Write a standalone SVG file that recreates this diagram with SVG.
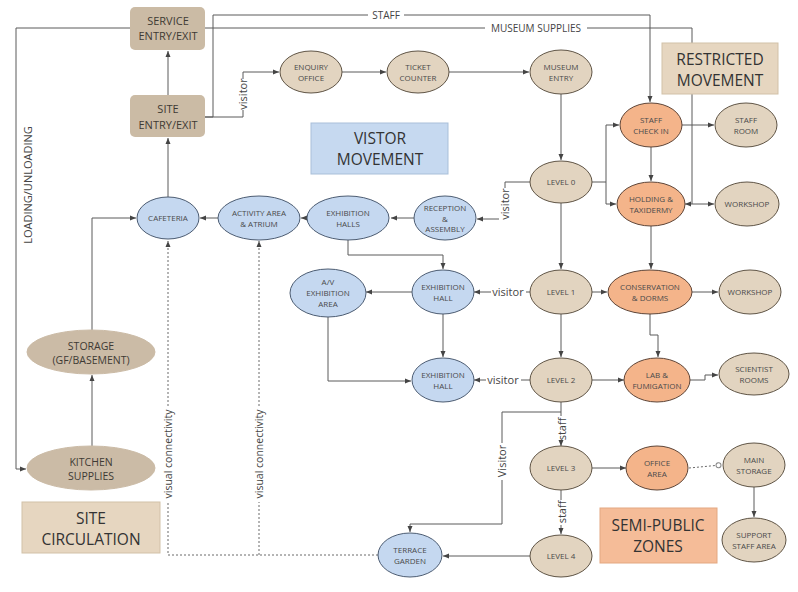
<svg xmlns="http://www.w3.org/2000/svg" width="798" height="592" viewBox="0 0 798 592">
<style>
text{font-family:"Open Sans","Liberation Sans",sans-serif;text-anchor:middle}
.n{font-size:8px;fill:#4a4a4a}
.b{font-size:11px;fill:#3e3a34}
.lg{font-size:15.5px;fill:#333}
.lb{font-size:11px;fill:#444}
.c path{fill:none;stroke:#5a5a5a;stroke-width:1}
.c path.d{stroke-dasharray:2 2;stroke:#6a6a6a}
.tan ellipse{fill:#e2d4c0;stroke:#5f5445;stroke-width:1}
.dk ellipse{fill:#cbbba6;stroke:#cbbba6}
.bl ellipse{fill:#c5d8f0;stroke:#4c5c72;stroke-width:1}
.or ellipse{fill:#f4b48a;stroke:#5e4436;stroke-width:1}
.box{fill:#cbbba5}
</style>
<defs>
<marker id="a" markerUnits="userSpaceOnUse" markerWidth="6" markerHeight="6" refX="6" refY="3" orient="auto"><path d="M0,0.5 L6,3 L0,5.5 z" fill="#444"/></marker>
<marker id="o" markerUnits="userSpaceOnUse" markerWidth="8" markerHeight="8" refX="6.5" refY="4" orient="auto"><circle cx="4" cy="4" r="2.5" fill="#fff" stroke="#888" stroke-width="1"/></marker>
</defs>
<rect width="798" height="592" fill="#fff"/>

<g id="connectors" class="c">
<path d="M168,95 V51" marker-end="url(#a)"/>
<path d="M168,197 V138" marker-end="url(#a)"/>
<path d="M130,28 H16 V469 H26" marker-end="url(#a)"/>
<path d="M205,117 H213 V15 H368"/>
<path d="M404,15 H650 V102" marker-end="url(#a)"/>
<path d="M205,28 H485"/>
<path d="M587,28 H692 V204 H685" marker-end="url(#a)"/>
<path d="M205,117 H243 V110"/>
<path d="M243,79 V72 H279" marker-end="url(#a)"/>
<path d="M342,72 H386" marker-end="url(#a)"/>
<path d="M449,72 H529" marker-end="url(#a)"/>
<path d="M561,94 V160" marker-end="url(#a)"/>
<path d="M592,182 H606 V125 H619" marker-end="url(#a)"/>
<path d="M606,182 V204 H616" marker-end="url(#a)"/>
<path d="M682,125 H714" marker-end="url(#a)"/>
<path d="M651,147 V181" marker-end="url(#a)"/>
<path d="M692,204 H714" marker-end="url(#a)"/>
<path d="M651,226 V269" marker-end="url(#a)"/>
<path d="M561,203 V269" marker-end="url(#a)"/>
<path d="M561,314 V357" marker-end="url(#a)"/>
<path d="M561,402 V416"/>
<path d="M561,442 V446" marker-end="url(#a)"/>
<path d="M561,490 V500"/>
<path d="M561,525 V534" marker-end="url(#a)"/>
<path d="M592,292 H607" marker-end="url(#a)"/>
<path d="M692,292 H718" marker-end="url(#a)"/>
<path d="M650,314 V335 H658 V357" marker-end="url(#a)"/>
<path d="M592,380 H624" marker-end="url(#a)"/>
<path d="M690,380 H705 V375 H718" marker-end="url(#a)"/>
<path d="M592,468 H626" marker-end="url(#a)"/>
<path class="d" d="M689,468 L721,465" marker-end="url(#o)"/>
<path d="M754,487 V517" marker-end="url(#a)"/>
<path d="M530,556 H443" marker-end="url(#a)"/>
<path d="M561,412 H502 V443"/>
<path d="M502,480 V524 H410 V532" marker-end="url(#a)"/>
<path d="M530,182 H505 V188"/>
<path d="M499,219 H477" marker-end="url(#a)"/>
<path d="M415,218 H391" marker-end="url(#a)"/>
<path d="M307,218 H301" marker-end="url(#a)"/>
<path d="M218,218 H200" marker-end="url(#a)"/>
<path d="M92,330 V218 H136" marker-end="url(#a)"/>
<path d="M92,446 V375" marker-end="url(#a)"/>
<path d="M348,240 V255 H443 V269" marker-end="url(#a)"/>
<path d="M530,292 H526"/>
<path d="M491,292 H474" marker-end="url(#a)"/>
<path d="M412,292 H366" marker-end="url(#a)"/>
<path d="M443,314 V357" marker-end="url(#a)"/>
<path d="M328,317 V381 H411" marker-end="url(#a)"/>
<path d="M530,380 H521"/>
<path d="M486,380 H474" marker-end="url(#a)"/>
<path class="d" d="M378,555 H168 V502"/>
<path class="d" d="M168,406 V241" marker-end="url(#a)"/>
<path class="d" d="M259,555 V502"/>
<path class="d" d="M259,406 V241" marker-end="url(#a)"/>
<text class="lb" x="386" y="19" style="font-size:10px">STAFF</text>
<text class="lb" x="536" y="32" style="font-size:10px">MUSEUM SUPPLIES</text>
<text class="lb" transform="translate(32,185) rotate(-90)">LOADING/UNLOADING</text>
<text class="lb" transform="translate(247,94) rotate(-90)">visitor</text>
<text class="lb" transform="translate(509,204) rotate(-90)">visitor</text>
<text class="lb" x="508" y="296">visitor</text>
<text class="lb" x="503" y="384">visitor</text>
<text class="lb" transform="translate(566,429) rotate(-90)">staff</text>
<text class="lb" transform="translate(566,512) rotate(-90)">staff</text>
<text class="lb" transform="translate(506,461) rotate(-90)">Visitor</text>
<text class="lb" style="font-size:10.5px" transform="translate(172,454) rotate(-90)">visual connectivity</text>
<text class="lb" style="font-size:10.5px" transform="translate(263,454) rotate(-90)">visual connectivity</text>
</g>

<g id="service-entry"><rect class="box" x="130" y="7" width="75" height="43" rx="5"/><text class="b" x="168" y="25">SERVICE</text><text class="b" x="168" y="40">ENTRY/EXIT</text></g>
<g id="site-entry"><rect class="box" x="130" y="95" width="75" height="42" rx="5"/><text class="b" x="168" y="113">SITE</text><text class="b" x="168" y="129">ENTRY/EXIT</text></g>

<g id="enquiry" class="tan"><ellipse cx="311" cy="72" rx="31" ry="21"/><text class="n" x="311" y="69.5">ENQUIRY</text><text class="n" x="311" y="80.5">OFFICE</text></g>
<g id="ticket" class="tan"><ellipse cx="418" cy="72" rx="31" ry="21"/><text class="n" x="418" y="69.5">TICKET</text><text class="n" x="418" y="80.5">COUNTER</text></g>
<g id="museum-entry" class="tan"><ellipse cx="561" cy="72" rx="31" ry="22"/><text class="n" x="561" y="69.5">MUSEUM</text><text class="n" x="561" y="80.5">ENTRY</text></g>

<g id="level0" class="tan"><ellipse cx="561" cy="182" rx="31" ry="21"/><text class="n" x="561" y="185">LEVEL 0</text></g>
<g id="level1" class="tan"><ellipse cx="561" cy="292" rx="31" ry="22"/><text class="n" x="561" y="295">LEVEL 1</text></g>
<g id="level2" class="tan"><ellipse cx="561" cy="380" rx="31" ry="22"/><text class="n" x="561" y="383">LEVEL 2</text></g>
<g id="level3" class="tan"><ellipse cx="561" cy="468" rx="31" ry="22"/><text class="n" x="561" y="471">LEVEL 3</text></g>
<g id="level4" class="tan"><ellipse cx="561" cy="556" rx="31" ry="21"/><text class="n" x="561" y="559">LEVEL 4</text></g>

<g id="staff-checkin" class="or"><ellipse cx="651" cy="125" rx="31" ry="22"/><text class="n" x="651" y="122.5">STAFF</text><text class="n" x="651" y="133.5">CHECK IN</text></g>
<g id="staff-room" class="tan"><ellipse cx="746" cy="125" rx="31" ry="22"/><text class="n" x="746" y="122.5">STAFF</text><text class="n" x="746" y="133.5">ROOM</text></g>
<g id="holding" class="or"><ellipse cx="651" cy="204" rx="34" ry="22"/><text class="n" x="651" y="201.5">HOLDING &amp;</text><text class="n" x="651" y="212.5">TAXIDERMY</text></g>
<g id="workshop1" class="tan"><ellipse cx="747" cy="204" rx="32" ry="22"/><text class="n" x="747" y="207">WORKSHOP</text></g>
<g id="conservation" class="or"><ellipse cx="650" cy="292" rx="42" ry="22"/><text class="n" x="650" y="289.5">CONSERVATION</text><text class="n" x="650" y="300.5">&amp; DORMS</text></g>
<g id="workshop2" class="tan"><ellipse cx="750" cy="292" rx="31" ry="22"/><text class="n" x="750" y="295">WORKSHOP</text></g>
<g id="lab" class="or"><ellipse cx="657" cy="380" rx="33" ry="22"/><text class="n" x="657" y="377.5">LAB &amp;</text><text class="n" x="657" y="388.5">FUMIGATION</text></g>
<g id="scientist" class="tan"><ellipse cx="754" cy="374" rx="35" ry="21"/><text class="n" x="754" y="371.5">SCIENTIST</text><text class="n" x="754" y="382.5">ROOMS</text></g>
<g id="office" class="or"><ellipse cx="657" cy="468" rx="31" ry="22"/><text class="n" x="657" y="465.5">OFFICE</text><text class="n" x="657" y="476.5">AREA</text></g>
<g id="main-storage" class="tan"><ellipse cx="754" cy="465" rx="31" ry="22"/><text class="n" x="754" y="462.5">MAIN</text><text class="n" x="754" y="473.5">STORAGE</text></g>
<g id="support-staff" class="tan"><ellipse cx="754" cy="540" rx="32" ry="22"/><text class="n" x="754" y="537.5">SUPPORT</text><text class="n" x="754" y="548.5">STAFF AREA</text></g>

<g id="reception" class="bl"><ellipse cx="445" cy="218" rx="31" ry="22"/><text class="n" x="445" y="211">RECEPTION</text><text class="n" x="445" y="221.5">&amp;</text><text class="n" x="445" y="232">ASSEMBLY</text></g>
<g id="exhibition-halls" class="bl"><ellipse cx="348" cy="218" rx="41" ry="22"/><text class="n" x="348" y="215.5">EXHIBITION</text><text class="n" x="348" y="226.5">HALLS</text></g>
<g id="activity" class="bl"><ellipse cx="259" cy="218" rx="41" ry="22"/><text class="n" x="259" y="215.5">ACTIVITY AREA</text><text class="n" x="259" y="226.5">&amp; ATRIUM</text></g>
<g id="cafeteria" class="bl"><ellipse cx="168" cy="218" rx="31" ry="21"/><text class="n" x="168" y="221">CAFETERIA</text></g>
<g id="exhibition-hall1" class="bl"><ellipse cx="443" cy="292" rx="31" ry="22"/><text class="n" x="443" y="289.5">EXHIBITION</text><text class="n" x="443" y="300.5">HALL</text></g>
<g id="av-area" class="bl"><ellipse cx="328" cy="293" rx="38" ry="24"/><text class="n" x="328" y="285">A/V</text><text class="n" x="328" y="296">EXHIBITION</text><text class="n" x="328" y="307">AREA</text></g>
<g id="exhibition-hall2" class="bl"><ellipse cx="443" cy="380" rx="31" ry="22"/><text class="n" x="443" y="377.5">EXHIBITION</text><text class="n" x="443" y="388.5">HALL</text></g>
<g id="terrace" class="bl"><ellipse cx="410" cy="555" rx="32" ry="22"/><text class="n" x="410" y="552.5">TERRACE</text><text class="n" x="410" y="563.5">GARDEN</text></g>

<g id="storage" class="dk"><ellipse cx="91" cy="352" rx="64" ry="22"/><text class="b" x="91" y="350" style="font-size:10.5px">STORAGE</text><text class="b" x="91" y="364" style="font-size:10.5px">(GF/BASEMENT)</text></g>
<g id="kitchen" class="dk"><ellipse cx="91" cy="468" rx="64" ry="22"/><text class="b" x="91" y="466" style="font-size:10.5px">KITCHEN</text><text class="b" x="91" y="480" style="font-size:10.5px">SUPPLIES</text></g>

<g id="legend-visitor"><rect x="311" y="123" width="137" height="51" fill="#c6d9f0" stroke="#a9bfd9"/><text class="lg" x="380" y="144">VISTOR</text><text class="lg" x="380" y="165">MOVEMENT</text></g>
<g id="legend-restricted"><rect x="662" y="43" width="116" height="51" fill="#e6d6c0" stroke="#d2c1a8"/><text class="lg" x="720" y="65">RESTRICTED</text><text class="lg" x="720" y="86">MOVEMENT</text></g>
<g id="legend-site"><rect x="22" y="502" width="138" height="51" fill="#e6d6c0" stroke="#d2c1a8"/><text class="lg" x="91" y="524">SITE</text><text class="lg" x="91" y="545">CIRCULATION</text></g>
<g id="legend-semipublic"><rect x="600" y="508" width="117" height="55" fill="#f5bc98" stroke="#e3a881"/><text class="lg" x="658" y="531">SEMI-PUBLIC</text><text class="lg" x="658" y="552">ZONES</text></g>
</svg>
